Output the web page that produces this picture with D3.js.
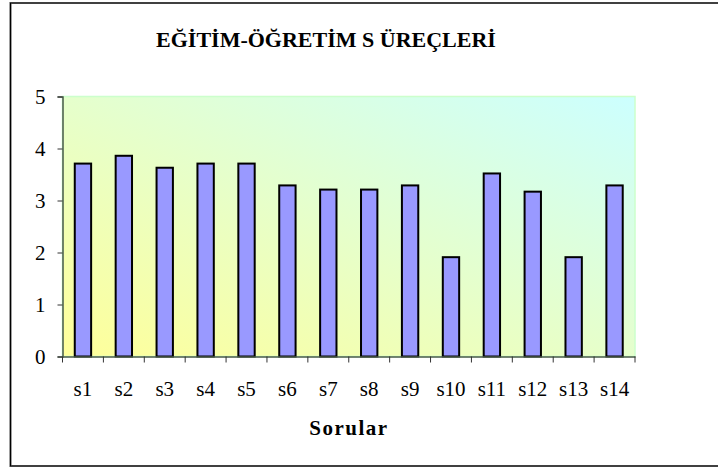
<!DOCTYPE html>
<html><head><meta charset="utf-8">
<script src="https://cdn.jsdelivr.net/npm/d3@7"></script>
<style>body{margin:0;background:#fff}svg{display:block}</style>
</head><body>
<svg id="c" width="718" height="468"></svg>
<script>
const categories = ["s1","s2","s3","s4","s5","s6","s7","s8","s9","s10","s11","s12","s13","s14"];
const values = [3.71, 3.86, 3.63, 3.71, 3.71, 3.29, 3.21, 3.21, 3.29, 1.91, 3.52, 3.17, 1.91, 3.29];
const yTicks = [0, 1, 2, 3, 4, 5];
const title = "EĞİTİM-ÖĞRETİM S ÜREÇLERİ";
const xTitle = "Sorular";

const FONT = "'Liberation Serif', 'Times New Roman', serif";
const svg = d3.select("#c");
const m = {l: 62.5, r: 635, t: 96.5, b: 356.5};
const x = d3.scaleBand().domain(categories).range([m.l, m.r]).paddingInner(0.6).paddingOuter(0.3);
const xb = d3.scaleBand().domain(categories).range([m.l, m.r]);
const y = d3.scaleLinear().domain([0, 5]).range([m.b, m.t]);

// outer frame
svg.append("rect").attr("x", 10.5).attr("y", 3).attr("width", 760).attr("height", 463)
  .attr("fill", "none").attr("stroke", "#404040").attr("stroke-width", 2);
svg.append("line").attr("x1", 10.5).attr("x2", 10.5).attr("y1", 3).attr("y2", 466)
  .attr("stroke", "#000").attr("stroke-width", 1);

const defs = svg.append("defs");
const g = defs.append("linearGradient").attr("id", "bg").attr("x1", 0).attr("y1", 1).attr("x2", 1).attr("y2", 0);
g.append("stop").attr("offset", "0%").attr("stop-color", "#ffff99");
g.append("stop").attr("offset", "100%").attr("stop-color", "#ccffff");

svg.append("rect").attr("x", m.l).attr("y", m.t).attr("width", m.r - m.l).attr("height", m.b - m.t)
  .attr("fill", "url(#bg)").attr("stroke", "#ccffcc").attr("stroke-width", 1.5);

// bars
svg.append("g").selectAll("rect").data(values).join("rect")
  .attr("x", (d, i) => x(categories[i]))
  .attr("y", d => y(d))
  .attr("width", x.bandwidth())
  .attr("height", d => y(0) - y(d))
  .attr("fill", "#9999ff").attr("stroke", "#000").attr("stroke-width", 2);

// y axis
const ya = svg.append("g").attr("transform", `translate(${m.l},0)`)
  .call(d3.axisLeft(y).tickValues(yTicks).tickFormat(d3.format("d")).tickSize(5).tickPadding(12));
ya.select(".domain").attr("stroke", "#4a5a4a").attr("stroke-width", 1.5);
ya.selectAll(".tick line").attr("stroke", "#333");
ya.selectAll("text").style("font-family", FONT).style("font-size", "21px").attr("fill", "#000")
  .attr("dy", "0.34em");

// x axis
const xa = svg.append("g").attr("transform", `translate(0,${m.b})`)
  .call(d3.axisBottom(xb).tickSize(0).tickPadding(26));
xa.select(".domain").attr("stroke", "#4a5a4a").attr("stroke-width", 1.5);
xa.selectAll("text").style("font-family", FONT).style("font-size", "21px").attr("fill", "#000")
  .attr("y", 39).attr("dy", 0);
// tick marks between categories
const bounds = categories.map(c => xb(c)).concat([m.r]);
svg.append("g").selectAll("line").data(bounds).join("line")
  .attr("x1", d => d).attr("x2", d => d).attr("y1", m.b).attr("y2", m.b + 6)
  .attr("stroke", "#333").attr("stroke-width", 1);

// titles
svg.append("text").attr("x", 326).attr("y", 47).attr("text-anchor", "middle")
  .style("font-family", FONT).style("font-weight", "bold")
  .style("font-size", "22px").text(title);
svg.append("text").attr("x", 349).attr("y", 435).attr("text-anchor", "middle")
  .style("font-family", FONT).style("font-weight", "bold")
  .style("font-size", "21px").attr("letter-spacing", 1.5).text(xTitle);
</script>
</body></html>
